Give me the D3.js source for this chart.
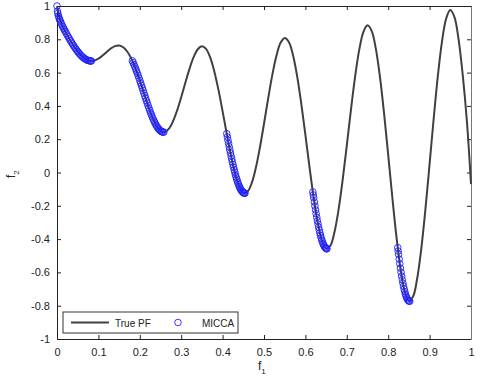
<!DOCTYPE html>
<html>
<head>
<meta charset="utf-8">
<script src="https://cdn.jsdelivr.net/npm/d3@7"></script>
<style>
  body { margin: 0; background: #fff; }
  text { font-family: "Liberation Sans", Arial, sans-serif; }
</style>
</head>
<body>
<div id="chart"></div>
<script>
// true Pareto front at 0.01 steps
var pfX = [0,0.01,0.02,0.03,0.04,0.05,0.06,0.07,0.08,0.09,0.1,0.11,0.12,0.13,0.14,0.15,0.16,0.17,0.18,0.19,0.2,
  0.21,0.22,0.23,0.24,0.25,0.26,0.27,0.28,0.29,0.3,0.31,0.32,0.33,0.34,0.35,0.36,0.37,0.38,0.39,0.4,
  0.41,0.42,0.43,0.44,0.45,0.46,0.47,0.48,0.49,0.5,0.51,0.52,0.53,0.54,0.55,0.56,0.57,0.58,0.59,0.6,
  0.61,0.62,0.63,0.64,0.65,0.66,0.67,0.68,0.69,0.7,0.71,0.72,0.73,0.74,0.75,0.76,0.77,0.78,0.79,0.8,
  0.81,0.82,0.83,0.84,0.85,0.86,0.87,0.88,0.89,0.9,0.91,0.92,0.93,0.94,0.95,0.96,0.97,0.98,0.99,1];
var pfY = [1,0.8969,0.8468,0.8025,0.762,0.7264,0.698,0.6788,0.6702,0.6722,0.6838,0.7023,0.7241,0.7446,0.759,0.7627,0.7522,0.7252,0.6815,0.6228,0.5528,
  0.4768,0.4017,0.3343,0.2818,0.25,0.2428,0.262,0.3062,0.3719,0.4523,0.539,0.6224,0.6925,0.7403,0.7584,0.7424,0.691,0.607,0.496,0.3675,
  0.233,0.105,-0.0036,-0.0818,-0.1208,-0.1157,-0.0658,0.0251,0.1486,0.2929,0.4435,0.5846,0.7008,0.7788,0.8084,0.7843,0.7061,0.5793,0.4142,0.2254,
  0.0305,-0.1518,-0.3034,-0.4087,-0.4562,-0.4401,-0.3605,-0.2243,-0.0439,0.1633,0.3768,0.5747,0.7362,0.8436,0.884,0.851,0.7454,0.5753,0.3553,0.1056,
  -0.1503,-0.3875,-0.5825,-0.7154,-0.772,-0.7453,-0.6365,-0.4554,-0.2184,0.0513,0.3273,0.5816,0.788,0.9245,0.9753,0.9333,0.7998,0.5861,0.3109,-0.07];

// MICCA solutions (first pass)
var miccaX = [0,0.002,0.005,0.008,0.012,0.016,0.02,0.025,0.03,0.035,0.04,0.045,0.05,0.055,0.06,0.065,0.07,0.075,0.08,0.083,
  0.182,0.186,0.19,0.194,0.198,0.202,0.206,0.21,0.214,0.218,0.222,0.226,0.23,0.234,0.238,0.242,0.246,0.25,0.254,0.258,
  0.41,0.413,0.416,0.419,0.422,0.425,0.428,0.431,0.434,0.437,0.44,0.443,0.446,0.449,0.452,0.454,
  0.618,0.62,0.623,0.626,0.629,0.632,0.635,0.638,0.641,0.644,0.647,0.65,0.652,
  0.823,0.825,0.828,0.831,0.834,0.837,0.84,0.843,0.846,0.849,0.852];
var miccaY = [1,0.9552,0.9285,0.9086,0.8861,0.8658,0.8468,0.8242,0.8025,0.7817,0.762,0.7435,0.7264,0.7112,0.698,0.6871,0.6788,0.6731,0.6702,0.6697,
  0.6709,0.6479,0.6228,0.5959,0.5674,0.5379,0.5075,0.4768,0.4463,0.4163,0.3873,0.3598,0.3343,0.3112,0.2908,0.2737,0.2599,0.25,0.244,0.2422,
  0.233,0.1933,0.1546,0.1172,0.0814,0.0476,0.016,-0.013,-0.0391,-0.0622,-0.0818,-0.0979,-0.1103,-0.1189,-0.1234,-0.1242,
  -0.1172,-0.1518,-0.2013,-0.2476,-0.2901,-0.3286,-0.3627,-0.3919,-0.4162,-0.4351,-0.4486,-0.4562,-0.4582,
  -0.4514,-0.4917,-0.5479,-0.5989,-0.644,-0.6831,-0.7154,-0.7409,-0.7591,-0.77,-0.7733];

// MICCA solutions (in between, the cloud is dense)
var miccaX2 = [0.001,0.0035,0.0065,0.01,0.014,0.018,0.0225,0.0275,0.0325,0.0375,0.0425,0.0475,0.0525,0.0575,0.0625,0.0675,0.0725,0.0775,0.0815,
  0.184,0.188,0.192,0.196,0.2,0.204,0.208,0.212,0.216,0.22,0.224,0.228,0.232,0.236,0.24,0.244,0.248,0.252,0.256,
  0.4115,0.4145,0.4175,0.4205,0.4235,0.4265,0.4295,0.4325,0.4355,0.4385,0.4415,0.4445,0.4475,0.4505,0.453,
  0.619,0.6215,0.6245,0.6275,0.6305,0.6335,0.6365,0.6395,0.6425,0.6455,0.6485,0.651,
  0.824,0.8265,0.8295,0.8325,0.8355,0.8385,0.8415,0.8445,0.8475,0.8505];
var miccaY2 = [0.9684,0.9404,0.9181,0.8969,0.8757,0.8562,0.8354,0.8133,0.792,0.7718,0.7525,0.7347,0.7186,0.7043,0.6923,0.6826,0.6756,0.6713,0.6698,
  0.6597,0.6356,0.6096,0.5819,0.5528,0.5227,0.4922,0.4616,0.4311,0.4017,0.3734,0.3468,0.3224,0.3007,0.2818,0.2663,0.2545,0.2465,0.2425,
  0.213,0.1739,0.1358,0.099,0.0642,0.0315,0.0011,-0.0263,-0.051,-0.0724,-0.0904,-0.1046,-0.1151,-0.1217,-0.1241,
  -0.1347,-0.177,-0.2249,-0.2693,-0.3098,-0.3462,-0.3779,-0.4047,-0.4264,-0.4424,-0.4531,-0.4575,
  -0.4717,-0.5204,-0.5742,-0.6222,-0.6644,-0.7,-0.729,-0.7509,-0.7655,-0.7726];

var xTicks = [0,0.1,0.2,0.3,0.4,0.5,0.6,0.7,0.8,0.9,1];
var yTicks = [-1,-0.8,-0.6,-0.4,-0.2,0,0.2,0.4,0.6,0.8,1];
var legendNames = ["True PF", "MICCA"];

var W = 480, H = 385;
var margin = {top: 6, right: 9, bottom: 46, left: 57};
var width = W - margin.left - margin.right;
var height = H - margin.top - margin.bottom;

var svg = d3.select("#chart").append("svg")
  .attr("width", W).attr("height", H);
var g = svg.append("g")
  .attr("transform", "translate(" + margin.left + "," + margin.top + ")");

var x = d3.scaleLinear().domain([0, 1]).range([0, width]);
var y = d3.scaleLinear().domain([-1, 1]).range([height, 0]);

// plain hyphen minus like matlab
function fmt(d) { return String(+d.toFixed(1)); }

// axes, matlab style: ticks inside, box all round
g.append("g").attr("transform", "translate(0," + height + ")")
  .call(d3.axisBottom(x).tickValues(xTicks).tickSizeInner(-4).tickSizeOuter(0).tickPadding(9).tickFormat(fmt));
g.append("g")
  .call(d3.axisTop(x).tickValues(xTicks).tickSizeInner(-4).tickSizeOuter(0).tickFormat(""));
g.append("g")
  .call(d3.axisLeft(y).tickValues(yTicks).tickSizeInner(-4).tickSizeOuter(0).tickPadding(7).tickFormat(fmt));
var yRight = g.append("g").attr("transform", "translate(" + width + ",0)")
  .call(d3.axisRight(y).tickValues(yTicks).tickSizeInner(-4).tickSizeOuter(0).tickFormat(""));

g.selectAll(".domain").attr("stroke", "#222");
g.selectAll(".tick line").attr("stroke", "#222");
g.selectAll(".tick text").attr("font-size", 11).attr("fill", "#222")
  .style("font-family", "'Liberation Sans', Arial, sans-serif");
yRight.select(".domain").attr("stroke", "#777");

// true PF line
var pf = pfX.map(function(d, i) { return [d, pfY[i]]; });
g.append("path")
  .datum(pf)
  .attr("fill", "none")
  .attr("stroke", "#404040")
  .attr("stroke-width", 2)
  .attr("d", d3.line()
    .x(function(d) { return x(d[0]); })
    .y(function(d) { return y(d[1]); })
    .curve(d3.curveCatmullRom));

// MICCA circles
var pts = miccaX.map(function(d, i) { return [d, miccaY[i]]; })
  .concat(miccaX2.map(function(d, i) { return [d, miccaY2[i]]; }));
g.selectAll("circle.pt")
  .data(pts)
  .enter().append("circle")
  .attr("class", "pt")
  .attr("cx", function(d) { return x(d[0]); })
  .attr("cy", function(d) { return y(d[1]); })
  .attr("r", 3.3)
  .attr("fill", "none")
  .attr("stroke", "#2020ff")
  .attr("stroke-width", 0.9);

// legend
var lg = svg.append("g").attr("transform", "translate(63,312)");
lg.append("rect").attr("width", 175).attr("height", 21)
  .attr("fill", "#fff").attr("stroke", "#333").attr("stroke-width", 1);
lg.append("line").attr("x1", 8).attr("x2", 46).attr("y1", 10.5).attr("y2", 10.5)
  .attr("stroke", "#404040").attr("stroke-width", 2);
lg.append("text").attr("x", 52).attr("y", 14.5).attr("font-size", 10).attr("fill", "#222").text(legendNames[0]);
lg.append("circle").attr("cx", 115).attr("cy", 10.5).attr("r", 3.3)
  .attr("fill", "none").attr("stroke", "#2020ff").attr("stroke-width", 0.9);
lg.append("text").attr("x", 139).attr("y", 14.5).attr("font-size", 10).attr("fill", "#222").text(legendNames[1]);

// axis labels
var xl = svg.append("text").attr("x", 258).attr("y", 370).attr("font-size", 12).attr("fill", "#222");
xl.append("tspan").text("f");
xl.append("tspan").attr("font-size", 8).attr("dy", 4).text("1");
var yl = svg.append("text").attr("transform", "translate(15,178) rotate(-90)")
  .attr("font-size", 12).attr("fill", "#222");
yl.append("tspan").text("f");
yl.append("tspan").attr("font-size", 8).attr("dy", 4).text("2");
</script>
</body>
</html>
